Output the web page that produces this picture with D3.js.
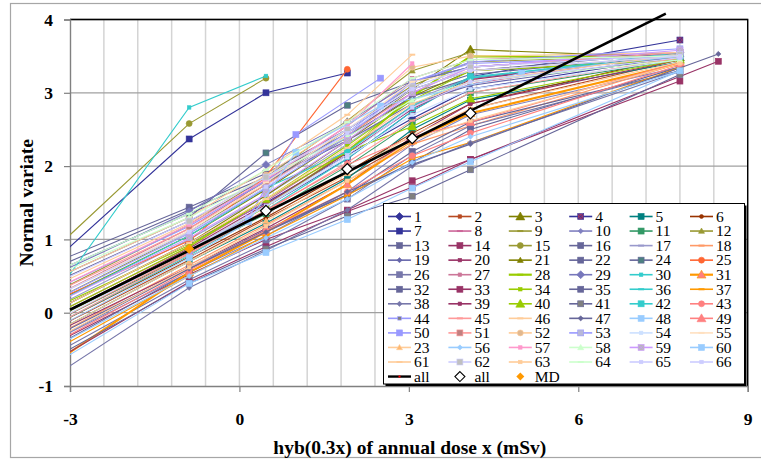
<!DOCTYPE html>
<html>
<head>
<meta charset="utf-8">
<script src="https://cdn.jsdelivr.net/npm/d3@7/dist/d3.min.js"></script>
<style>
  body { margin: 0; background: #fff; }
  svg { display: block; }
  text { font-family: "Liberation Serif", "DejaVu Serif", serif; }
</style>
</head>
<body>
<svg id="chart" width="761" height="459"></svg>
<script>
// x positions (hyb scale) shared by most series
const xCols = [-3.6, -0.89, 0.47, 1.91, 3.06, 4.09, 7.8, 8.48];

const seriesNames = [
  "1","2","3","4","5","6","7","8","9","10","11","12",
  "13","14","15","16","17","18","19","20","21","22","24","25",
  "26","27","28","29","30","31","32","33","34","35","36","37",
  "38","39","40","41","42","43","44","45","46","47","48","49",
  "50","51","52","53","54","55","23","56","57","58","59","60",
  "61","62","63","64","65","66"
];

const seriesColors = [
  "#333399","#b84a22","#808000","#333399","#008080","#993300","#333399","#cc6699","#999933","#8080c0","#339966","#999933",
  "#666699","#993366","#999933","#666699","#9999cc","#ff9966","#6666aa","#993366","#808000","#666699","#666699","#ff6633",
  "#7777aa","#cc7799","#99cc00","#7777bb","#33cccc","#ff9900","#666699","#993366","#99cc00","#666699","#33cccc","#ff9900",
  "#7777aa","#993366","#99cc00","#666699","#33cccc","#ff8080","#9999ff","#ff9999","#ffcc99","#666699","#99ccff","#ff8080",
  "#9999ff","#ff9999","#ffcc99","#9999ff","#cce0ff","#ffe0c0","#ffcc99","#99ccff","#ff99cc","#ccffcc","#cc99ff","#99ccff",
  "#ffcc99","#ccccff","#ffcc99","#ccffcc","#ccccff","#ccccff"
];

// D diamond, d small diamond, S square, s small square, T triangle, t small triangle,
// O circle, o small circle, - dash, X square with cross
const seriesMarkers = [
  "D","s","T","X","S","o","S","-","-","d","S","t",
  "S","S","O","S","-","-","d","s","t","S","S","O",
  "S","s","-","D","s","T","S","S","s","S","-","-",
  "d","s","T","S","S","O","s","-","-","d","S","T",
  "S","S","O","S","s","-","t","d","s","t","X","S",
  "-","S","s","-","s","s"
];

const markerFills = {
  "4": "#993366", "24": "#4d8080", "31": "#ff8080", "41": "#808080", "44": "#808080",
  "51": "#c08080", "52": "#e0b890", "53": "#b8b8d8", "23": "#ffb870", "59": "#b8b8b8", "62": "#c0c0c0"
};

const thickSeries = ["28", "31"];

const seriesY = [
  [-0.10, 0.95, 1.50, 2.15, 2.65, 3.05, 3.50, null],   // 1
  [-0.35, 0.72, 1.28, 1.85, 2.35, 2.78, 3.45, null],   // 2
  [ 0.02, 1.05, 1.68, 2.40, 3.05, 3.59, 3.48, null],   // 3
  [-0.20, 0.85, 1.45, 2.10, 2.75, 3.22, 3.72, null],   // 4
  [-0.40, 0.70, 1.22, 1.83, 2.50, 2.90, 3.42, null],   // 5
  [-0.30, 0.76, 1.30, 1.92, 2.45, 2.85, 3.50, null],   // 6
  [ 0.48, 2.37, 3.00, 3.27, null, null, null, null],   // 7
  [-0.15, 0.90, 1.52, 2.22, 2.82, 3.12, 3.55, null],   // 8
  [ 0.05, 1.10, 1.75, 2.50, 3.10, 3.42, 3.52, null],   // 9
  [-0.50, 0.55, 1.05, 1.65, 2.30, 2.70, 3.35, null],   // 10
  [-0.25, 0.80, 1.35, 2.00, 2.60, 3.00, 3.45, null],   // 11
  [ 0.15, 1.20, 1.85, 2.62, 3.30, 3.55, null, null],   // 12
  [ 0.58, 1.44, 1.90, 2.50, 3.05, 3.30, 3.55, null],   // 13
  [-0.55, 0.52, 1.00, 1.40, 1.80, 2.09, 3.16, null],   // 14
  [ 0.63, 2.58, 3.20, null, null, null, null, null],   // 15
  [ 0.50, 1.40, 1.85, 2.45, 3.00, 3.25, 3.52, null],   // 16
  [-0.05, 1.00, 1.60, 2.30, 2.90, 3.20, 3.50, null],   // 17
  [-0.45, 0.65, 1.20, 1.80, 2.30, 2.55, 3.40, null],   // 18
  [ 0.45, 1.35, 1.80, 2.35, 2.85, 3.10, 3.50, null],   // 19
  [-0.40, 0.62, 1.15, 1.75, 2.40, 2.85, 3.45, null],   // 20
  [-0.10, 0.95, 1.60, 2.35, 2.95, 3.30, 3.45, null],   // 21
  [-0.60, 0.55, 1.10, 1.61, 2.20, 2.60, 3.30, null],   // 22
  [ 0.35, 1.30, 2.18, 2.83, 3.15, 3.35, 3.55, null],   // 24
  [ 0.05, 0.98, 1.86, 3.32, null, null, null, null],   // 25
  [-0.70, 0.45, 0.95, 1.55, 2.15, 2.55, 3.30, null],   // 26
  [ 0.10, 1.15, 1.80, 2.55, 3.20, 3.45, 3.55, null],   // 27
  [-0.20, 0.85, 1.45, 2.20, 2.95, 3.50, 3.48, null],   // 28
  [ 0.40, 1.38, 2.02, 2.60, 3.15, 3.35, 3.55, null],   // 29
  [-0.12, 2.80, 3.23, null, null, null, null, null],   // 30
  [-0.85, 0.55, 1.10, 1.75, 2.35, 2.72, 3.40, null],   // 31
  [ 0.30, 1.25, 1.78, 2.40, 2.95, 3.20, 3.50, null],   // 32
  [-0.80, 0.42, 0.90, 1.38, 1.71, 2.09, null, 3.43],   // 33
  [-0.05, 0.92, 1.55, 2.28, 2.90, 3.30, 3.45, null],   // 34
  [-0.45, 0.60, 1.13, 1.61, 2.05, 2.50, 3.35, null],   // 35
  [-0.30, 0.78, 1.40, 2.10, 2.75, 3.20, 3.55, null],   // 36
  [-0.65, 0.50, 1.05, 1.60, 2.10, 2.32, 3.35, null],   // 37
  [-1.03, 0.34, 0.85, 1.40, 2.00, 2.32, 3.29, null],   // 38
  [-0.20, 0.88, 1.48, 2.18, 2.78, 3.18, 3.52, null],   // 39
  [-0.15, 0.90, 1.55, 2.20, 2.54, 2.92, 3.45, null],   // 40
  [-0.75, 0.40, 0.87, 1.32, 1.59, 1.95, 3.25, null],   // 41
  [ 0.00, 1.05, 1.70, 2.20, 2.82, 3.22, 3.50, null],   // 42
  [-0.55, 0.58, 1.12, 1.65, 2.14, 2.45, 3.38, null],   // 43
  [ 0.20, 1.18, 1.80, 2.45, 3.15, 3.40, 3.50, null],   // 44
  [-0.30, 0.80, 1.38, 2.05, 2.62, 3.00, 3.48, null],   // 45
  [ 0.35, 1.30, 1.95, 2.70, 3.52, null, null, null],   // 46
  [-0.50, 0.60, 1.10, 1.65, 2.02, 2.30, null, 3.53],   // 47
  [-0.85, 0.40, 0.82, 1.27, 1.70, 2.06, 3.30, null],   // 48
  [-0.25, 0.82, 1.40, 2.02, 2.40, 2.60, 3.42, null],   // 49
  [-0.20, 0.85, 1.29, 2.43, 3.20],                     // 50 (own x)
  [ 0.15, 1.15, 1.75, 2.42, 3.00, 3.35, 3.55, null],   // 51
  [ 0.25, 1.22, 1.88, 2.60, 3.35, 3.50, 3.55, null],   // 52
  [ 0.05, 1.08, 1.70, 2.40, 3.15, 3.42, 3.60, null],   // 53
  [-0.25, 0.85, 1.45, 2.12, 2.70, 3.05, 3.45, null],   // 54
  [ 0.10, 1.12, 1.78, 2.50, 3.15, 3.30, 3.50, null],   // 55
  [-0.40, 0.70, 1.25, 1.90, 2.42, 2.78, 3.42, null],   // 23
  [-0.60, 0.50, 1.02, 1.55, 2.05, 2.40, 3.30, null],   // 56
  [ 0.20, 1.20, 1.82, 2.55, 3.40, null, null, null],   // 57
  [ 0.40, 1.30, 1.85, 2.40, 2.90, 3.15, 3.45, null],   // 58
  [ 0.00, 1.02, 1.62, 2.35, 3.00, 3.35, 3.58, null],   // 59
  [-0.35, 0.75, 1.24, 2.19, 2.82, 3.27, 3.50],         // 60 (own x)
  [-0.10, 0.95, 1.55, 2.25, 2.85, 3.15, 3.52, null],   // 61
  [ 0.28, 1.25, 1.85, 2.50, 3.08, 3.35, 3.52, null],   // 62
  [-0.50, 0.62, 1.18, 1.80, 2.35, 2.62, 3.40, null],   // 63
  [ 0.45, 1.35, 1.95, 2.60, 3.20, 3.45, 3.50, null],   // 64
  [-0.20, 0.86, 1.46, 2.15, 2.80, 3.15, 3.48, null],   // 65
  [ 0.10, 1.10, 1.72, 2.45, 3.05, 3.30, 3.50, null]    // 66
];

// series measured at other x positions
const altX = {
  "50": [-3.6, -0.89, 0.16, 1.0, 2.5],
  "60": [-3.6, -0.89, 0.16, 1.0, 2.5, 5.0, 7.8]
};

// pooled fit line and pooled points
const allLineX = [-3.0, 7.55];
const allLineY = [0.04, 4.08];
const allPointsX = [0.47, 1.91, 3.06, 4.09];
const allPointsY = [1.39, 1.96, 2.38, 2.72];
const mdX = [-0.89];
const mdY = [0.87];

const xTicks = [-3, 0, 3, 6, 9];
const yTicks = [-1, 0, 1, 2, 3, 4];

const FONT = '"Liberation Serif", "DejaVu Serif", serif';
const svg = d3.select('#chart');
const plotL = 70, plotR = 747.7, plotT = 19.5, plotB = 386;

const x = d3.scaleLinear().domain([-3, 9]).range([plotL, plotR]);
const y = d3.scaleLinear().domain([-1, 4]).range([plotB, plotT]);

// outer chart border
svg.append('rect')
  .attr('x', 10.5).attr('y', 3.5)
  .attr('width', 760).attr('height', 454)
  .attr('fill', '#fff')
  .attr('stroke', '#a6a6a6')
  .attr('stroke-width', 1.2);

// minor vertical gridlines every 0.6
const minorX = d3.range(-2.4, 9.001, 0.6);
svg.append('g')
  .selectAll('line')
  .data(minorX)
  .enter()
  .append('line')
  .attr('x1', d => x(d)).attr('x2', d => x(d))
  .attr('y1', plotT).attr('y2', plotB)
  .attr('stroke', '#d4d4d4')
  .attr('stroke-width', 1.5);

svg.append('g')
  .selectAll('line')
  .data(yTicks.slice(1))
  .enter()
  .append('line')
  .attr('x1', plotL).attr('x2', plotR)
  .attr('y1', d => y(d)).attr('y2', d => y(d))
  .attr('stroke', '#a0a0a0')
  .attr('stroke-width', 1.3);

// plot frame top / right
svg.append('path')
  .attr('d', `M${plotL},${plotT}H${plotR}V${plotB}`)
  .attr('fill', 'none')
  .attr('stroke', '#000')
  .attr('stroke-width', 1.4);

// axes
const xAxis = svg.append('g')
  .attr('transform', `translate(0,${plotB})`)
  .call(d3.axisBottom(x).tickValues(xTicks).tickSize(6).tickPadding(21).tickFormat(d => String(d)));
const yAxis = svg.append('g')
  .attr('transform', `translate(${plotL},0)`)
  .call(d3.axisLeft(y).tickValues(yTicks).tickSize(6).tickPadding(11).tickFormat(d => String(d)));

[xAxis, yAxis].forEach(a => {
  a.attr('font-family', FONT).attr('font-size', 17.5).attr('font-weight', 'bold');
  a.select('.domain').attr('stroke', '#808080').attr('stroke-width', 1.4);
  a.selectAll('.tick line').attr('stroke', '#808080').attr('stroke-width', 1.2);
  a.selectAll('.tick text').attr('fill', '#000');
});

svg.append('text')
  .attr('x', (plotL + plotR) / 2 + 1)
  .attr('y', 454)
  .attr('text-anchor', 'middle')
  .attr('font-family', FONT)
  .attr('font-size', 19.5)
  .attr('font-weight', 'bold')
  .text('hyb(0.3x) of annual dose x (mSv)');

svg.append('text')
  .attr('transform', `translate(33,${(plotT + plotB) / 2}) rotate(-90)`)
  .attr('text-anchor', 'middle')
  .attr('font-family', FONT)
  .attr('font-size', 19.5)
  .attr('font-weight', 'bold')
  .text('Normal variate');

// marker drawing
function drawMarker(g, type, cx, cy, fill, stroke) {
  const sq = (s) => g.append('rect')
    .attr('x', cx - s / 2).attr('y', cy - s / 2)
    .attr('width', s).attr('height', s)
    .attr('fill', fill).attr('stroke', stroke).attr('stroke-width', 0.6);
  if (type === 'S') sq(6);
  else if (type === 's') sq(3.5);
  else if (type === 'X') {
    sq(6);
    g.append('path')
      .attr('d', `M${cx - 2.5},${cy - 2.5}L${cx + 2.5},${cy + 2.5}M${cx - 2.5},${cy + 2.5}L${cx + 2.5},${cy - 2.5}`)
      .attr('stroke', stroke).attr('stroke-width', 0.8);
  } else if (type === 'D' || type === 'd') {
    const r = type === 'D' ? 4 : 2.6;
    g.append('path')
      .attr('d', `M${cx},${cy - r}L${cx + r},${cy}L${cx},${cy + r}L${cx - r},${cy}Z`)
      .attr('fill', fill).attr('stroke', stroke).attr('stroke-width', 0.6);
  } else if (type === 'T' || type === 't') {
    const r = type === 'T' ? 4.5 : 3;
    g.append('path')
      .attr('d', `M${cx},${cy - r}L${cx + r},${cy + r * 0.75}L${cx - r},${cy + r * 0.75}Z`)
      .attr('fill', fill).attr('stroke', stroke).attr('stroke-width', 0.6);
  } else if (type === 'O' || type === 'o') {
    g.append('circle')
      .attr('cx', cx).attr('cy', cy)
      .attr('r', type === 'O' ? 3 : 2)
      .attr('fill', fill).attr('stroke', stroke).attr('stroke-width', 0.6);
  } else if (type === '-') {
    g.append('rect')
      .attr('x', cx - 3).attr('y', cy - 1)
      .attr('width', 6).attr('height', 2)
      .attr('fill', stroke);
  }
}

// clip away the part of the lines left of the y axis
svg.append('defs').append('clipPath').attr('id', 'plotClip')
  .append('rect').attr('x', plotL).attr('y', 0).attr('width', 761 - plotL).attr('height', plotB);

const plot = svg.append('g').attr('clip-path', 'url(#plotClip)');

const line = d3.line().x(d => x(d[0])).y(d => y(d[1]));

seriesNames.forEach((name, i) => {
  const xs = altX[name] || xCols;
  const pts = seriesY[i]
    .map((v, j) => [xs[j], v])
    .filter(p => p[1] !== null);
  const color = seriesColors[i];
  const fill = markerFills[name] || color;
  const g = plot.append('g');
  g.append('path')
    .attr('d', line(pts))
    .attr('fill', 'none')
    .attr('stroke', color)
    .attr('stroke-width', thickSeries.includes(name) ? 2 : 1.1);
  pts.forEach(p => {
    if (p[0] < -3) return;
    drawMarker(g, seriesMarkers[i], x(p[0]), y(p[1]), fill, color);
  });
});

// pooled fit line (not clipped at the top)
svg.append('path')
  .attr('d', line(allLineX.map((v, j) => [v, allLineY[j]])))
  .attr('stroke', '#000')
  .attr('stroke-width', 2.6)
  .attr('fill', 'none');

allPointsX.forEach((v, j) => {
  const cx = x(v), cy = y(allPointsY[j]), r = 5.5;
  svg.append('path')
    .attr('d', `M${cx},${cy - r}L${cx + r},${cy}L${cx},${cy + r}L${cx - r},${cy}Z`)
    .attr('fill', '#fff').attr('stroke', '#000').attr('stroke-width', 1.2);
});

mdX.forEach((v, j) => {
  const cx = x(v), cy = y(mdY[j]), r = 4.5;
  svg.append('path')
    .attr('d', `M${cx},${cy - r}L${cx + r},${cy}L${cx},${cy + r}L${cx - r},${cy}Z`)
    .attr('fill', '#ff9900').attr('stroke', '#ff9900');
});

// legend
const lg = svg.append('g').attr('font-family', FONT).attr('font-size', 15.5);
lg.append('rect')
  .attr('x', 385.5).attr('y', 205.5).attr('width', 361).attr('height', 180.5)
  .attr('fill', '#000');
lg.append('rect')
  .attr('x', 383.5).attr('y', 203.5).attr('width', 361).attr('height', 180.5)
  .attr('fill', '#fff').attr('stroke', '#000').attr('stroke-width', 1);

const colW = 60.4, rowH = 14.55, lx0 = 388, ly0 = 216.5;

seriesNames.forEach((name, i) => {
  const col = i % 6, row = Math.floor(i / 6);
  const lx = lx0 + col * colW, ly = ly0 + row * rowH;
  const color = seriesColors[i];
  const fill = markerFills[name] || color;
  const g = lg.append('g');
  g.append('line')
    .attr('x1', lx).attr('x2', lx + 23)
    .attr('y1', ly).attr('y2', ly)
    .attr('stroke', color)
    .attr('stroke-width', thickSeries.includes(name) ? 2.2 : 1.6);
  drawMarker(g, seriesMarkers[i], lx + 11.5, ly, fill, color);
  g.append('text')
    .attr('x', lx + 26).attr('y', ly).attr('dy', '0.34em')
    .text(name);
});

{
  const ly = ly0 + 11 * rowH;
  lg.append('line')
    .attr('x1', lx0).attr('x2', lx0 + 23).attr('y1', ly).attr('y2', ly)
    .attr('stroke', '#000').attr('stroke-width', 2.4);
  lg.append('rect')
    .attr('x', lx0 + 10.5).attr('y', ly - 1).attr('width', 2).attr('height', 2)
    .attr('fill', '#ff0000');
  lg.append('text').attr('x', lx0 + 26).attr('y', ly).attr('dy', '0.34em').text('all');

  const cx = lx0 + colW + 11.5, r = 5;
  lg.append('path')
    .attr('d', `M${cx},${ly - r}L${cx + r},${ly}L${cx},${ly + r}L${cx - r},${ly}Z`)
    .attr('fill', '#fff').attr('stroke', '#000').attr('stroke-width', 1.1);
  lg.append('text').attr('x', lx0 + colW + 26).attr('y', ly).attr('dy', '0.34em').text('all');

  const cx2 = lx0 + 2 * colW + 11.5, r2 = 4;
  lg.append('path')
    .attr('d', `M${cx2},${ly - r2}L${cx2 + r2},${ly}L${cx2},${ly + r2}L${cx2 - r2},${ly}Z`)
    .attr('fill', '#ff9900');
  lg.append('text').attr('x', lx0 + 2 * colW + 26).attr('y', ly).attr('dy', '0.34em').text('MD');
}
</script>
</body>
</html>
